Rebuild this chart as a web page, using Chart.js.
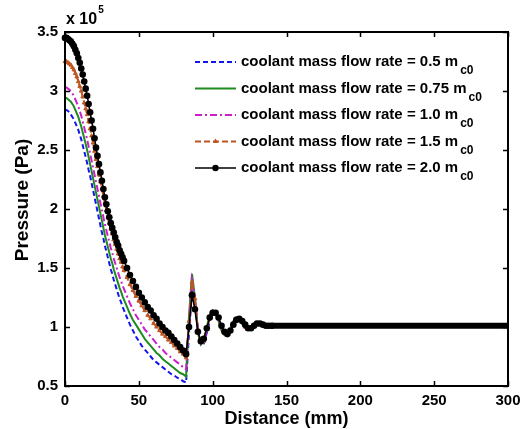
<!DOCTYPE html>
<html><head><meta charset="utf-8">
<script src="https://cdn.jsdelivr.net/npm/chart.js@4.4.0/dist/chart.umd.min.js"></script>
<style>html,body{margin:0;padding:0;background:#fff;}#wrap{width:527px;height:429px;position:relative;}</style>
</head><body><div id="wrap"><canvas id="c" width="527" height="429"></canvas></div>
<script>
// Distance along the channel (mm)
const distanceMm = [0,1,2,3,4,5,6,7,8,9,10,11,12,13,14,15,16,17,18,19,20,21,22,23,24,25,26,27,28,29,30,31,32,33,34,35,36,37,38,39,40,
  42,44,46,48,50,52,54,56,58,60,62,64,66,68,70,72,74,76,78,80,82,
  84,86,88,90,92,94,96,98,100,102,104,106,108,110,112,114,116,118,120,122,124,126,128,130,132,134,136,138,140,300];
// Pressure (x 10^5 Pa) for each coolant mass flow rate
const p050 = [2.84,2.84,2.83,2.82,2.80,2.78,2.76,2.73,2.70,2.67,2.63,2.59,2.54,2.49,2.44,2.39,2.33,2.28,2.22,2.16,2.10,2.04,1.98,1.92,1.86,1.80,1.75,1.69,1.64,1.59,1.54,1.49,1.45,1.40,1.36,1.32,1.28,1.24,1.21,1.17,1.14,
  1.08,1.02,0.97,0.92,0.88,0.84,0.81,0.78,0.75,0.72,0.70,0.68,0.66,0.64,0.62,0.60,0.59,0.57,0.56,0.54,0.53,
  0.95,1.30,1.22,0.98,0.86,0.86,0.95,1.05,1.12,1.13,1.08,1.00,0.94,0.93,0.97,1.03,1.07,1.07,1.04,1.00,0.98,0.99,1.02,1.03,1.03,1.02,1.01,1.01,1.01,1.01];
const p075 = [2.94,2.94,2.93,2.92,2.91,2.89,2.87,2.84,2.81,2.78,2.74,2.70,2.65,2.60,2.55,2.50,2.44,2.38,2.32,2.26,2.20,2.14,2.08,2.02,1.96,1.90,1.84,1.78,1.73,1.68,1.63,1.58,1.54,1.49,1.45,1.41,1.37,1.33,1.30,1.26,1.23,
  1.17,1.11,1.06,1.02,0.98,0.94,0.90,0.87,0.84,0.81,0.78,0.76,0.73,0.71,0.69,0.67,0.65,0.63,0.61,0.60,0.58,
  1.10,1.45,1.25,0.95,0.85,0.88,1.00,1.10,1.14,1.12,1.05,0.97,0.93,0.94,0.99,1.05,1.08,1.07,1.03,0.99,0.98,1.00,1.03,1.04,1.03,1.01,1.01,1.01,1.01,1.01];
const p100 = [3.03,3.03,3.02,3.01,3.00,2.98,2.96,2.93,2.90,2.87,2.83,2.79,2.74,2.69,2.64,2.59,2.53,2.47,2.41,2.35,2.29,2.23,2.17,2.11,2.05,1.99,1.93,1.87,1.82,1.77,1.72,1.67,1.63,1.58,1.54,1.50,1.46,1.42,1.39,1.35,1.32,
  1.26,1.20,1.15,1.10,1.06,1.02,0.98,0.95,0.92,0.89,0.86,0.83,0.81,0.78,0.76,0.74,0.72,0.70,0.68,0.66,0.64,
  1.05,1.40,1.26,0.98,0.86,0.87,0.97,1.08,1.14,1.13,1.07,0.99,0.94,0.93,0.98,1.04,1.08,1.07,1.03,0.99,0.98,1.00,1.02,1.04,1.03,1.02,1.01,1.01,1.01,1.01];
const p150 = [3.25,3.25,3.24,3.23,3.22,3.20,3.18,3.15,3.12,3.08,3.04,3.00,2.95,2.90,2.85,2.80,2.74,2.68,2.62,2.56,2.49,2.42,2.36,2.29,2.23,2.17,2.11,2.05,1.99,1.93,1.88,1.83,1.79,1.74,1.70,1.66,1.62,1.58,1.55,1.51,1.48,
  1.42,1.36,1.31,1.26,1.22,1.18,1.14,1.10,1.07,1.03,1.00,0.97,0.94,0.92,0.89,0.87,0.84,0.82,0.79,0.77,0.74,
  1.05,1.38,1.24,0.98,0.87,0.88,0.98,1.08,1.13,1.12,1.07,1.00,0.95,0.94,0.97,1.03,1.07,1.07,1.04,1.00,0.98,0.99,1.02,1.03,1.03,1.02,1.01,1.01,1.01,1.01];
const p200 = [3.45,3.45,3.44,3.43,3.42,3.40,3.38,3.35,3.32,3.28,3.24,3.19,3.14,3.08,3.02,2.96,2.89,2.82,2.75,2.68,2.60,2.52,2.45,2.38,2.31,2.24,2.17,2.10,2.04,1.98,1.93,1.88,1.84,1.80,1.76,1.72,1.69,1.65,1.62,1.59,1.56,
  1.50,1.44,1.39,1.34,1.29,1.25,1.21,1.17,1.14,1.10,1.07,1.03,1.00,0.97,0.95,0.92,0.89,0.86,0.83,0.80,0.77,
  1.00,1.27,1.15,0.96,0.88,0.90,0.99,1.08,1.12,1.12,1.08,1.01,0.96,0.94,0.97,1.02,1.06,1.07,1.05,1.02,0.99,0.99,1.01,1.03,1.03,1.02,1.01,1.01,1.01,1.01];
const flowLabels = ['0.5','0.75','1.0','1.5','2.0'];
const xTickValues = [0,50,100,150,200,250,300];
const yTickValues = [0.5,1,1.5,2,2.5,3,3.5];

const FONT = '"Liberation Sans", Arial, sans-serif';
const toPts = arr => distanceMm.map((x,i)=>({x:x,y:arr[i]}));
const styles = [
  {color:'#1515f0', dash:[5,3], width:2, point:'none', order:4},
  {color:'#1e8c1e', dash:[], width:2, point:'none', order:3},
  {color:'#cc1fcc', dash:[7,3,2,3], width:2, point:'none', order:2},
  {color:'#bf5520', dash:[6,3], width:2, point:'triangle', order:1},
  {color:'#000000', dash:[], width:1.6, point:'circle', order:0}
];
const seriesData = [p050,p075,p100,p150,p200];

const datasets = seriesData.map((arr,k)=>{
  const s = styles[k];
  const ds = {
    label: 'coolant mass flow rate = ' + flowLabels[k] + ' m',
    data: toPts(arr),
    borderColor: s.color, backgroundColor: s.color,
    borderWidth: s.width, borderDash: s.dash,
    pointRadius: 0, order: s.order, clip: false, tension: 0
  };
  if (s.point === 'circle') {
    ds.pointStyle = 'circle';
    ds.pointRadius = ctx => distanceMm[ctx.dataIndex] <= 140 ? 3.3 : 0;
    ds.pointBorderWidth = 0;
    ds.segment = { borderWidth: ctx => distanceMm[ctx.p0DataIndex] >= 140 ? 6 : s.width };
  } else if (s.point === 'triangle') {
    ds.pointStyle = 'triangle';
    ds.pointRadius = ctx => distanceMm[ctx.dataIndex] <= 140 ? 2.2 : 0;
    ds.pointBorderWidth = 1;
  }
  return ds;
});

const framePlugin = {
  id: 'frame',
  afterDraw(chart) {
    const ctx = chart.ctx, a = chart.chartArea;
    const xs = chart.scales.x, ys = chart.scales.y;
    ctx.save();
    ctx.strokeStyle = '#000';
    ctx.lineWidth = 1.5;
    ctx.setLineDash([]);
    xs.ticks.forEach(t => {
      const px = Math.round(xs.getPixelForValue(t.value)) + 0.5;
      ctx.beginPath();
      ctx.moveTo(px, a.bottom); ctx.lineTo(px, a.bottom - 5);
      ctx.moveTo(px, a.top); ctx.lineTo(px, a.top + 5);
      ctx.stroke();
    });
    ys.ticks.forEach(t => {
      const py = Math.round(ys.getPixelForValue(t.value)) + 0.5;
      ctx.beginPath();
      ctx.moveTo(a.left, py); ctx.lineTo(a.left + 5, py);
      ctx.moveTo(a.right, py); ctx.lineTo(a.right - 5, py);
      ctx.stroke();
    });
    ctx.lineWidth = 2;
    ctx.strokeRect(a.left, a.top, a.right - a.left, a.bottom - a.top);
    ctx.fillStyle = '#000';
    // y-axis title
    ctx.save();
    ctx.translate(23, 200);
    ctx.rotate(-Math.PI / 2);
    ctx.textAlign = 'center';
    ctx.textBaseline = 'middle';
    ctx.font = 'bold 19px ' + FONT;
    ctx.fillText('Pressure (Pa)', 0, 0);
    ctx.restore();
    // exponent label
    ctx.textAlign = 'left';
    ctx.textBaseline = 'alphabetic';
    ctx.font = 'bold 16px ' + FONT;
    ctx.fillText('x 10', a.left + 1, 24);
    const w = ctx.measureText('x 10').width;
    ctx.font = 'bold 10px ' + FONT;
    ctx.fillText('5', a.left + 2 + w, 13);
    // legend
    const lx0 = 195, lx1 = 236, tx = 241;
    chart.data.datasets.forEach((ds, i) => {
      const s = styles[i];
      const y = 62 + i * 26.5;
      ctx.strokeStyle = s.color; ctx.fillStyle = s.color;
      ctx.lineWidth = s.width; ctx.setLineDash(s.dash);
      ctx.beginPath(); ctx.moveTo(lx0, y); ctx.lineTo(lx1, y); ctx.stroke();
      ctx.setLineDash([]);
      const mx = (lx0 + lx1) / 2;
      if (s.point === 'circle') { ctx.beginPath(); ctx.arc(mx, y, 3.2, 0, Math.PI * 2); ctx.fill(); }
      if (s.point === 'triangle') { ctx.beginPath(); ctx.moveTo(mx, y - 3); ctx.lineTo(mx + 2.6, y + 1.5); ctx.lineTo(mx - 2.6, y + 1.5); ctx.closePath(); ctx.fill(); }
      ctx.fillStyle = '#000';
      ctx.font = 'bold 15px ' + FONT;
      ctx.fillText(ds.label, tx, y + 4);
      const tw = ctx.measureText(ds.label).width;
      ctx.font = 'bold 12px ' + FONT;
      ctx.fillText('c0', tx + tw + 2, y + 12);
    });
    ctx.restore();
  }
};

new Chart(document.getElementById('c'), {
  type: 'line',
  data: { datasets: datasets },
  options: {
    responsive: false, animation: false,
    layout: { padding: { top: 32, right: 19, left: 0, bottom: 0 } },
    plugins: { legend: { display: false }, tooltip: { enabled: false } },
    scales: {
      x: {
        type: 'linear', min: 0, max: 300,
        afterBuildTicks: s => { s.ticks = xTickValues.map(v => ({ value: v })); },
        afterFit: s => { s.height = 43; },
        grid: { display: false, drawTicks: false }, border: { display: false },
        ticks: { color: '#000', font: { family: FONT, size: 15, weight: 'bold' }, padding: 6, maxRotation: 0, callback: v => String(v) },
        title: { display: true, text: 'Distance (mm)', color: '#000', font: { family: FONT, size: 18, weight: 'bold' }, padding: { top: 0, bottom: -1 } }
      },
      y: {
        type: 'linear', min: 0.5, max: 3.5,
        afterBuildTicks: s => { s.ticks = yTickValues.map(v => ({ value: v })); },
        afterFit: s => { s.width = 65; },
        grid: { display: false, drawTicks: false }, border: { display: false },
        ticks: { color: '#000', font: { family: FONT, size: 15, weight: 'bold' }, padding: 7, callback: v => String(v) },
        title: { display: false }
      }
    }
  },
  plugins: [framePlugin]
});
</script></body></html>
